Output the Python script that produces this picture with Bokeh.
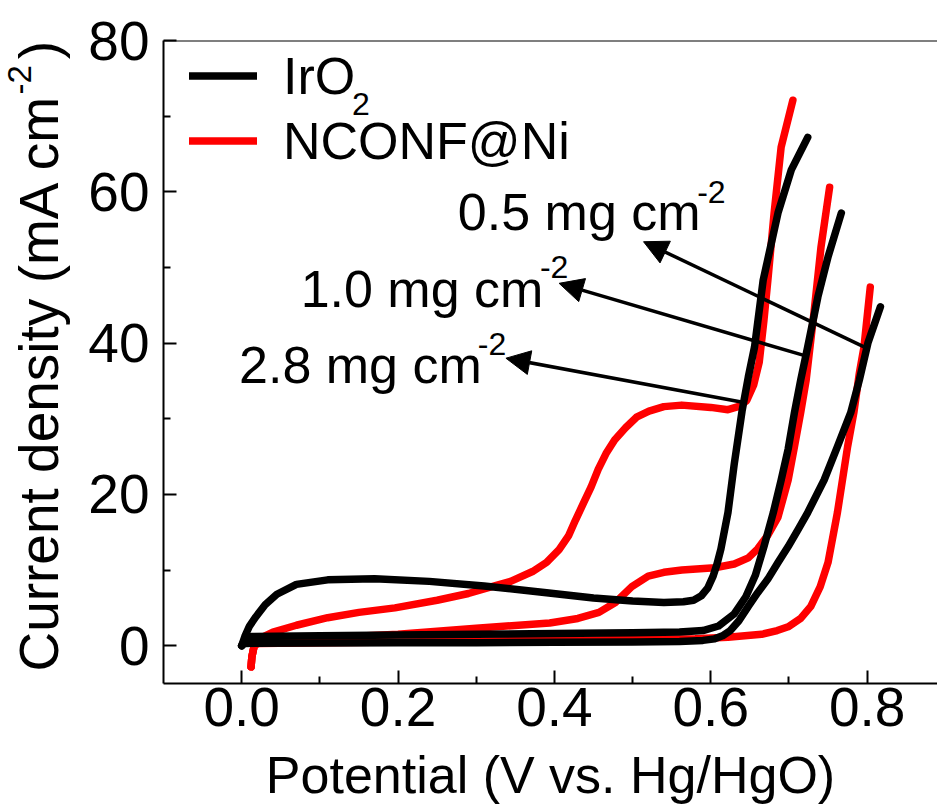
from bokeh.plotting import figure
from bokeh.layouts import row
from bokeh.models import (Range1d, FixedTicker, Legend, LegendItem, Span,
                          Label, Arrow, NormalHead, PrintfTickFormatter)
from bokeh.embed import file_html
from bokeh.resources import INLINE

# ---------------- data ----------------
# IrO2, three loadings
iro2_28_x = [0.000, 0.004, 0.010, 0.018, 0.030, 0.045, 0.070, 0.110, 0.170, 0.240, 0.310,
             0.390, 0.450, 0.500, 0.540, 0.565, 0.578, 0.588, 0.596, 0.603, 0.608, 0.613,
             0.622, 0.630, 0.640, 0.648, 0.656, 0.667, 0.686, 0.703, 0.724]
iro2_28_y = [0.0, 1.2, 2.6, 3.8, 5.4, 6.8, 8.1, 8.7, 8.85, 8.5, 7.9,
             7.0, 6.3, 5.9, 5.7, 5.8, 6.0, 6.6, 7.6, 9.2, 10.8, 12.8,
             17.6, 24.0, 31.0, 35.5, 39.5, 48.3, 57.2, 62.9, 67.2]

iro2_10_x = [0.000, 0.005, 0.012, 0.10, 0.20, 0.30, 0.40, 0.50, 0.56, 0.59, 0.61, 0.63,
             0.645, 0.657, 0.668, 0.680, 0.690, 0.699, 0.707, 0.715, 0.724, 0.737, 0.750, 0.767]
iro2_10_y = [0.0, 0.8, 1.2, 1.3, 1.4, 1.5, 1.6, 1.7, 1.8, 2.0, 2.6, 4.2,
             6.5, 9.3, 13.1, 17.6, 21.9, 26.0, 30.8, 35.1, 39.5, 46.1, 51.4, 57.2]

iro2_05_x = [0.000, 0.004, 0.10, 0.20, 0.30, 0.40, 0.50, 0.56, 0.59, 0.605, 0.615, 0.625,
             0.636, 0.648, 0.660, 0.673, 0.686, 0.699, 0.712, 0.724, 0.745, 0.762, 0.779,
             0.790, 0.801, 0.817]
iro2_05_y = [0.0, 0.3, 0.35, 0.4, 0.4, 0.45, 0.5, 0.55, 0.7, 0.9, 1.3, 2.0,
             3.3, 5.2, 7.0, 8.8, 11.0, 13.1, 15.4, 17.6, 21.9, 26.3, 30.8,
             35.1, 40.0, 44.8]

# NCONF@Ni, three loadings
nconf_28_x = [0.012, 0.013, 0.016, 0.022, 0.04, 0.07, 0.11, 0.15, 0.196, 0.25, 0.29, 0.32,
              0.344, 0.372, 0.39, 0.406, 0.418, 0.427, 0.437, 0.447, 0.456, 0.466, 0.477,
              0.491, 0.505, 0.521, 0.540, 0.563, 0.600, 0.622, 0.635, 0.646, 0.655, 0.662,
              0.668, 0.673, 0.681, 0.690, 0.705]
nconf_28_y = [-2.8, -1.5, 0.0, 0.9, 1.8, 2.7, 3.7, 4.4, 5.0, 6.0, 6.9, 7.8,
              8.5, 9.8, 11.0, 12.7, 14.5, 16.6, 18.8, 21.0, 23.3, 25.4, 27.2,
              28.8, 30.2, 31.0, 31.6, 31.8, 31.5, 31.2, 31.6, 32.4, 34.5, 37.5,
              43.0, 48.3, 57.2, 65.9, 72.1]

nconf_10_x = [0.012, 0.013, 0.016, 0.022, 0.10, 0.20, 0.30, 0.394, 0.43, 0.457, 0.478, 0.499,
              0.52, 0.54, 0.563, 0.605, 0.63, 0.648, 0.660, 0.673, 0.686, 0.699, 0.707,
              0.715, 0.722, 0.732, 0.741, 0.752]
nconf_10_y = [-2.8, -1.5, 0.0, 0.6, 1.0, 1.5, 2.3, 3.0, 3.6, 4.4, 5.7, 7.8,
              9.2, 9.7, 10.0, 10.3, 10.8, 11.6, 12.8, 14.6, 17.0, 21.9, 26.3,
              30.8, 35.1, 44.0, 52.7, 60.6]

nconf_05_x = [0.012, 0.013, 0.016, 0.022, 0.10, 0.20, 0.30, 0.40, 0.50, 0.58, 0.622, 0.665,
              0.685, 0.699, 0.715, 0.728, 0.740, 0.750, 0.762, 0.775, 0.783, 0.790, 0.796, 0.804]
nconf_05_y = [-2.8, -1.5, 0.0, 0.3, 0.4, 0.5, 0.6, 0.7, 0.8, 0.9, 1.1, 1.5,
              2.0, 2.5, 3.6, 5.2, 7.8, 11.0, 17.6, 26.3, 30.8, 36.0, 39.5, 47.4]

series_names = ["IrO", "NCONF@Ni"]
series_subscript = "2"

x_ticks = [0.0, 0.2, 0.4, 0.6, 0.8]
x_minor = [0.1, 0.3, 0.5, 0.7]
y_ticks = [0, 20, 40, 60, 80]
y_minor = [10, 30, 50, 70]

x_title = "Potential (V vs. Hg/HgO)"
y_title_parts = ["Current density (mA cm", "-2", ")"]

loading_labels = ["2.8 mg cm", "1.0 mg cm", "0.5 mg cm"]
loading_sup = "-2"
label_x = [-0.0034, 0.0754, 0.2765]
label_y = [37.1, 47.2, 57.3]
sup_x = [0.302, 0.3815, 0.5826]
sup_y = [39.9, 50.0, 60.0]
arrow_tail_x = [0.639, 0.718, 0.796]
arrow_tail_y = [32.2, 38.4, 39.5]
arrow_tip_x = [0.338, 0.406, 0.514]
arrow_tip_y = [38.0, 47.9, 53.4]

# ---------------- styling ----------------
FONT = "Liberation Sans"
BLACK = "#000000"
RED = "#ff0000"

TOTAL_W, TOTAL_H = 937, 811
YT_W = 85      # strip that holds the y-axis title
MAIN_W = TOTAL_W - YT_W

# ---------------- main plot ----------------
p = figure(width=MAIN_W, height=TOTAL_H, output_backend="svg", toolbar_location=None,
           x_range=Range1d(-0.1, 0.89), y_range=Range1d(-5, 80),
           min_border_left=160 - YT_W, min_border_right=0, min_border_top=40,
           min_border_bottom=TOTAL_H - 683, background_fill_color="white")
p.outline_line_color = None
p.grid.visible = False


def style_axis(ax, ticks, minor):
    ax.ticker = FixedTicker(ticks=ticks, minor_ticks=minor)
    ax.axis_line_width = 2
    ax.axis_line_color = BLACK
    ax.major_tick_line_width = 2
    ax.minor_tick_line_width = 2
    ax.major_tick_line_color = BLACK
    ax.minor_tick_line_color = BLACK
    ax.major_tick_in = 13
    ax.major_tick_out = 0
    ax.minor_tick_in = 7
    ax.minor_tick_out = 0
    ax.major_label_text_font = FONT
    ax.major_label_text_font_size = "55px"
    ax.major_label_text_color = BLACK


xa = p.xaxis[0]
style_axis(xa, x_ticks, x_minor)
xa.formatter = PrintfTickFormatter(format="%.1f")
xa.major_label_standoff = 4
xa.axis_label = x_title
xa.axis_label_text_font = FONT
xa.axis_label_text_font_size = "52px"
xa.axis_label_text_font_style = "normal"
xa.axis_label_text_color = BLACK
xa.axis_label_standoff = 17

ya = p.yaxis[0]
style_axis(ya, y_ticks, y_minor)
ya.major_label_standoff = 14

# top border line of the frame
p.add_layout(Span(location=80, dimension="width", line_color=BLACK, line_width=2))

line_kw = dict(line_width=7.5, line_cap="round", line_join="round")
r_28 = p.line(nconf_28_x, nconf_28_y, line_color=RED, **line_kw)
r_10 = p.line(nconf_10_x, nconf_10_y, line_color=RED, **line_kw)
r_05 = p.line(nconf_05_x, nconf_05_y, line_color=RED, **line_kw)
k_28 = p.line(iro2_28_x, iro2_28_y, line_color=BLACK, **line_kw)
k_10 = p.line(iro2_10_x, iro2_10_y, line_color=BLACK, **line_kw)
k_05 = p.line(iro2_05_x, iro2_05_y, line_color=BLACK, **line_kw)

legend = Legend(items=[LegendItem(label=series_names[0], renderers=[k_28]),
                       LegendItem(label=series_names[1], renderers=[r_28])],
                location=(26, 510), orientation="vertical",
                background_fill_alpha=0, border_line_color=None,
                label_text_font=FONT, label_text_font_size="52px",
                label_text_color=BLACK, label_text_baseline="alphabetic",
                glyph_width=68, glyph_height=65, label_height=65,
                label_standoff=26, spacing=0, padding=0, margin=0)
p.add_layout(legend)

lab_kw = dict(text_font=FONT, text_color=BLACK, text_align="left",
              text_baseline="alphabetic")

# subscript of IrO2 in the legend
p.add_layout(Label(x=0.141, y=71.6, text=series_subscript, text_font_size="32px", **lab_kw))

for i in range(3):
    p.add_layout(Arrow(end=NormalHead(size=24, fill_color=BLACK, line_color=BLACK, line_width=1),
                       x_start=arrow_tail_x[i], y_start=arrow_tail_y[i],
                       x_end=arrow_tip_x[i], y_end=arrow_tip_y[i],
                       line_width=3.5, line_color=BLACK))
    p.add_layout(Label(x=label_x[i], y=label_y[i], text=loading_labels[i],
                       text_font_size="52px", **lab_kw))
    p.add_layout(Label(x=sup_x[i], y=sup_y[i], text=loading_sup,
                       text_font_size="32px", **lab_kw))

# ---------------- y-axis title strip (pixel coordinates, y downwards) ----------------
yt = figure(width=YT_W, height=TOTAL_H, output_backend="svg", toolbar_location=None,
            x_range=Range1d(0, YT_W), y_range=Range1d(TOTAL_H, 0),
            x_axis_location=None, y_axis_location=None, min_border=0,
            background_fill_color="white", border_fill_color="white")
yt.outline_line_color = None
yt.grid.visible = False

rot = 1.5707963267948966
end_kw = dict(text_font=FONT, text_color=BLACK, text_align="right",
              text_baseline="middle", angle=rot)
# each piece is anchored near its upper (reading-end) edge, anchors kept inside the strip
yt.add_layout(Label(x=38.5, y=67.4, text=y_title_parts[0], text_font_size="55px", **end_kw))
yt.add_layout(Label(x=19.0, y=31.1, text=y_title_parts[1], text_font_size="33px", **end_kw))
yt.add_layout(Label(x=38.5, y=0.5, text=y_title_parts[2], text_font_size="55px", **end_kw))

layout = row(yt, p, spacing=0)

open("out.html", "w").write(file_html(layout, INLINE))
